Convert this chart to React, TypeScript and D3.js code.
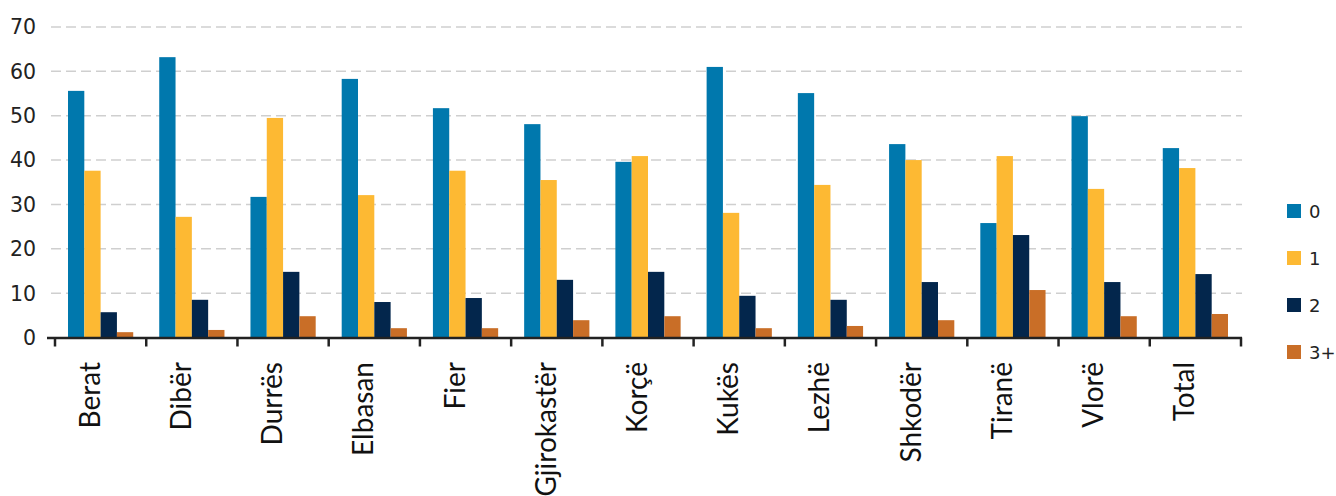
import React from "react";
import * as d3 from "d3";

// share of households by number of children, per prefecture (%)
const categories = [
    "Berat", "Dibër", "Durrës", "Elbasan", "Fier", "Gjirokastër", "Korçë",
    "Kukës", "Lezhë", "Shkodër", "Tiranë", "Vlorë", "Total",
];
const seriesNames = ["0", "1", "2", "3+"];
const values0 = [55.6, 63.2, 31.7, 58.3, 51.7, 48.1, 39.6, 61.0, 55.1, 43.6, 25.8, 49.9, 42.7];
const values1 = [37.6, 27.2, 49.5, 32.1, 37.6, 35.5, 40.9, 28.1, 34.4, 40.0, 40.9, 33.5, 38.2];
const values2 = [5.7, 8.5, 14.8, 8.0, 8.9, 13.0, 14.8, 9.4, 8.5, 12.5, 23.1, 12.5, 14.3];
const values3 = [1.2, 1.7, 4.8, 2.1, 2.1, 3.9, 4.8, 2.1, 2.6, 3.9, 10.7, 4.8, 5.3];
const yTicks = [0, 10, 20, 30, 40, 50, 60, 70];
const colors = ["#0078ad", "#fdb933", "#03264c", "#c96e27"];

const series = [values0, values1, values2, values3];

export default function App() {
    const width = 1336;
    const height = 496;
    const left = 55;
    const right = 1241;
    const top = 27;
    const bottom = 337.5;

    const x = d3.scaleBand<string>().domain(categories).range([left, right]);
    const bw = x.bandwidth();
    const inner = d3
        .scaleBand<string>()
        .domain(seriesNames)
        .range([13, bw - 13]);
    const y = d3.scaleLinear().domain([0, 70]).range([bottom, top]);

    const tickXs = categories.map((c) => x(c) as number).concat([right]);

    return (
        <svg
            width={width}
            height={height}
            style={{ position: "absolute", left: 0, top: 0 }}
        >
            <rect width={width} height={height} fill="#fff" />
            {yTicks.slice(1).map((t) => (
                <line
                    key={"g" + t}
                    x1={51}
                    x2={1242}
                    y1={y(t)}
                    y2={y(t)}
                    stroke="#cfcfcf"
                    strokeWidth={1.5}
                    strokeDasharray="10,5"
                />
            ))}
            {yTicks.map((t) => (
                <text
                    key={"t" + t}
                    x={36}
                    y={y(t)}
                    dy="0.36em"
                    textAnchor="end"
                    fontFamily="DejaVu Sans"
                    fontSize={20.5}
                    fill="#222"
                >
                    {t}
                </text>
            ))}
            {categories.map((c, i) => (
                <g key={c} transform={`translate(${x(c)},0)`}>
                    {series.map((vals, s) => (
                        <rect
                            key={s}
                            x={inner(seriesNames[s])}
                            y={y(vals[i])}
                            width={inner.bandwidth()}
                            height={bottom - y(vals[i])}
                            fill={colors[s]}
                        />
                    ))}
                </g>
            ))}
            <line
                x1={47}
                x2={right + 1}
                y1={bottom + 0.5}
                y2={bottom + 0.5}
                stroke="#222"
                strokeWidth={2.5}
            />
            {tickXs.map((tx, i) => (
                <line
                    key={"k" + i}
                    x1={tx}
                    x2={tx}
                    y1={bottom}
                    y2={bottom + 9}
                    stroke="#222"
                    strokeWidth={2.5}
                />
            ))}
            {categories.map((c) => (
                <text
                    key={"l" + c}
                    transform={`translate(${(x(c) as number) + bw / 2 - 1},362) rotate(-90)`}
                    textAnchor="end"
                    fontFamily="Lato"
                    fontSize={28}
                    fill="#111"
                >
                    {c}
                </text>
            ))}
            {seriesNames.map((n, s) => (
                <g key={"lg" + n} transform={`translate(1287,${204 + s * 47})`}>
                    <rect width={14} height={14} fill={colors[s]} />
                    <text
                        x={22}
                        y={8}
                        dy="0.36em"
                        fontFamily="DejaVu Sans"
                        fontSize={18}
                        fill="#222"
                    >
                        {n}
                    </text>
                </g>
            ))}
        </svg>
    );
}
